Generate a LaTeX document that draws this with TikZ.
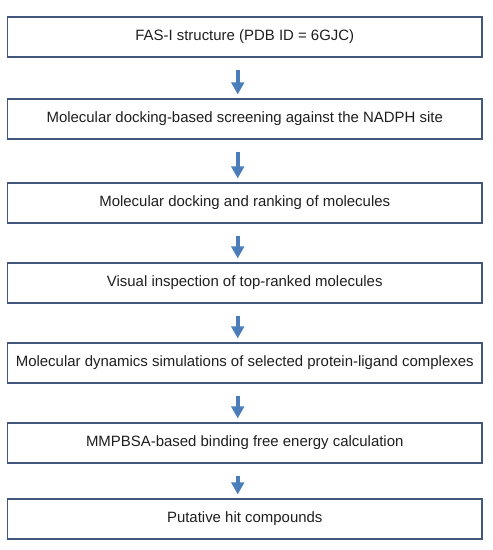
\documentclass[tikz,border=0pt]{standalone}
\usepackage{fontspec}
\setmainfont{Liberation Sans}
\usetikzlibrary{arrows.meta}
\definecolor{boxLine}{HTML}{41587C}
\definecolor{arrowBlue}{HTML}{4A7EBB}
\definecolor{stepText}{HTML}{1E1E1E}
\newcommand{\boxWidth}{474.5pt}
\newcommand{\boxHeight}{40pt}
\newcommand{\boxX}{244.75pt}
\newcommand{\arrowShift}{-7pt}

\begin{document}
\begin{tikzpicture}[x=1pt, y=1pt,
    stepbox/.style={draw=boxLine, line width=1.1pt, minimum width=\boxWidth,
      minimum height=\boxHeight, inner sep=0pt, text=stepText,
      font=\fontsize{14.95}{17}\selectfont},
    flowarrow/.style={-{Triangle[length=12pt,width=12.5pt]}, draw=arrowBlue,
      fill=arrowBlue, line width=4pt, shorten <=12pt, shorten >=4pt}]
\useasboundingbox (0,0) rectangle (493,550);
      \node (fas) [stepbox] at (\boxX, 513) {FAS-I structure (PDB ID = 6GJC)};
      \node (screen) [stepbox] at (\boxX, 431) {Molecular docking-based screening against the NADPH site};
      \node (rank) [stepbox] at (\boxX, 347) {Molecular docking and ranking of molecules};
      \node (inspect) [stepbox] at (\boxX, 267) {Visual inspection of top-ranked molecules};
      \node (md) [stepbox] at (\boxX, 187) {Molecular dynamics simulations of selected protein-ligand complexes};
      \node (mmpbsa) [stepbox] at (\boxX, 107) {MMPBSA-based binding free energy calculation};
      \node (hits) [stepbox] at (\boxX, 31) {Putative hit compounds};
\draw[flowarrow] ([xshift=\arrowShift]fas.south) -- ([xshift=\arrowShift]screen.north);
\draw[flowarrow] ([xshift=\arrowShift]screen.south) -- ([xshift=\arrowShift]rank.north);
\draw[flowarrow] ([xshift=\arrowShift]rank.south) -- ([xshift=\arrowShift]inspect.north);
\draw[flowarrow] ([xshift=\arrowShift]inspect.south) -- ([xshift=\arrowShift]md.north);
\draw[flowarrow] ([xshift=\arrowShift]md.south) -- ([xshift=\arrowShift]mmpbsa.north);
\draw[flowarrow] ([xshift=\arrowShift]mmpbsa.south) -- ([xshift=\arrowShift]hits.north);
      \end{tikzpicture}
\end{document}
